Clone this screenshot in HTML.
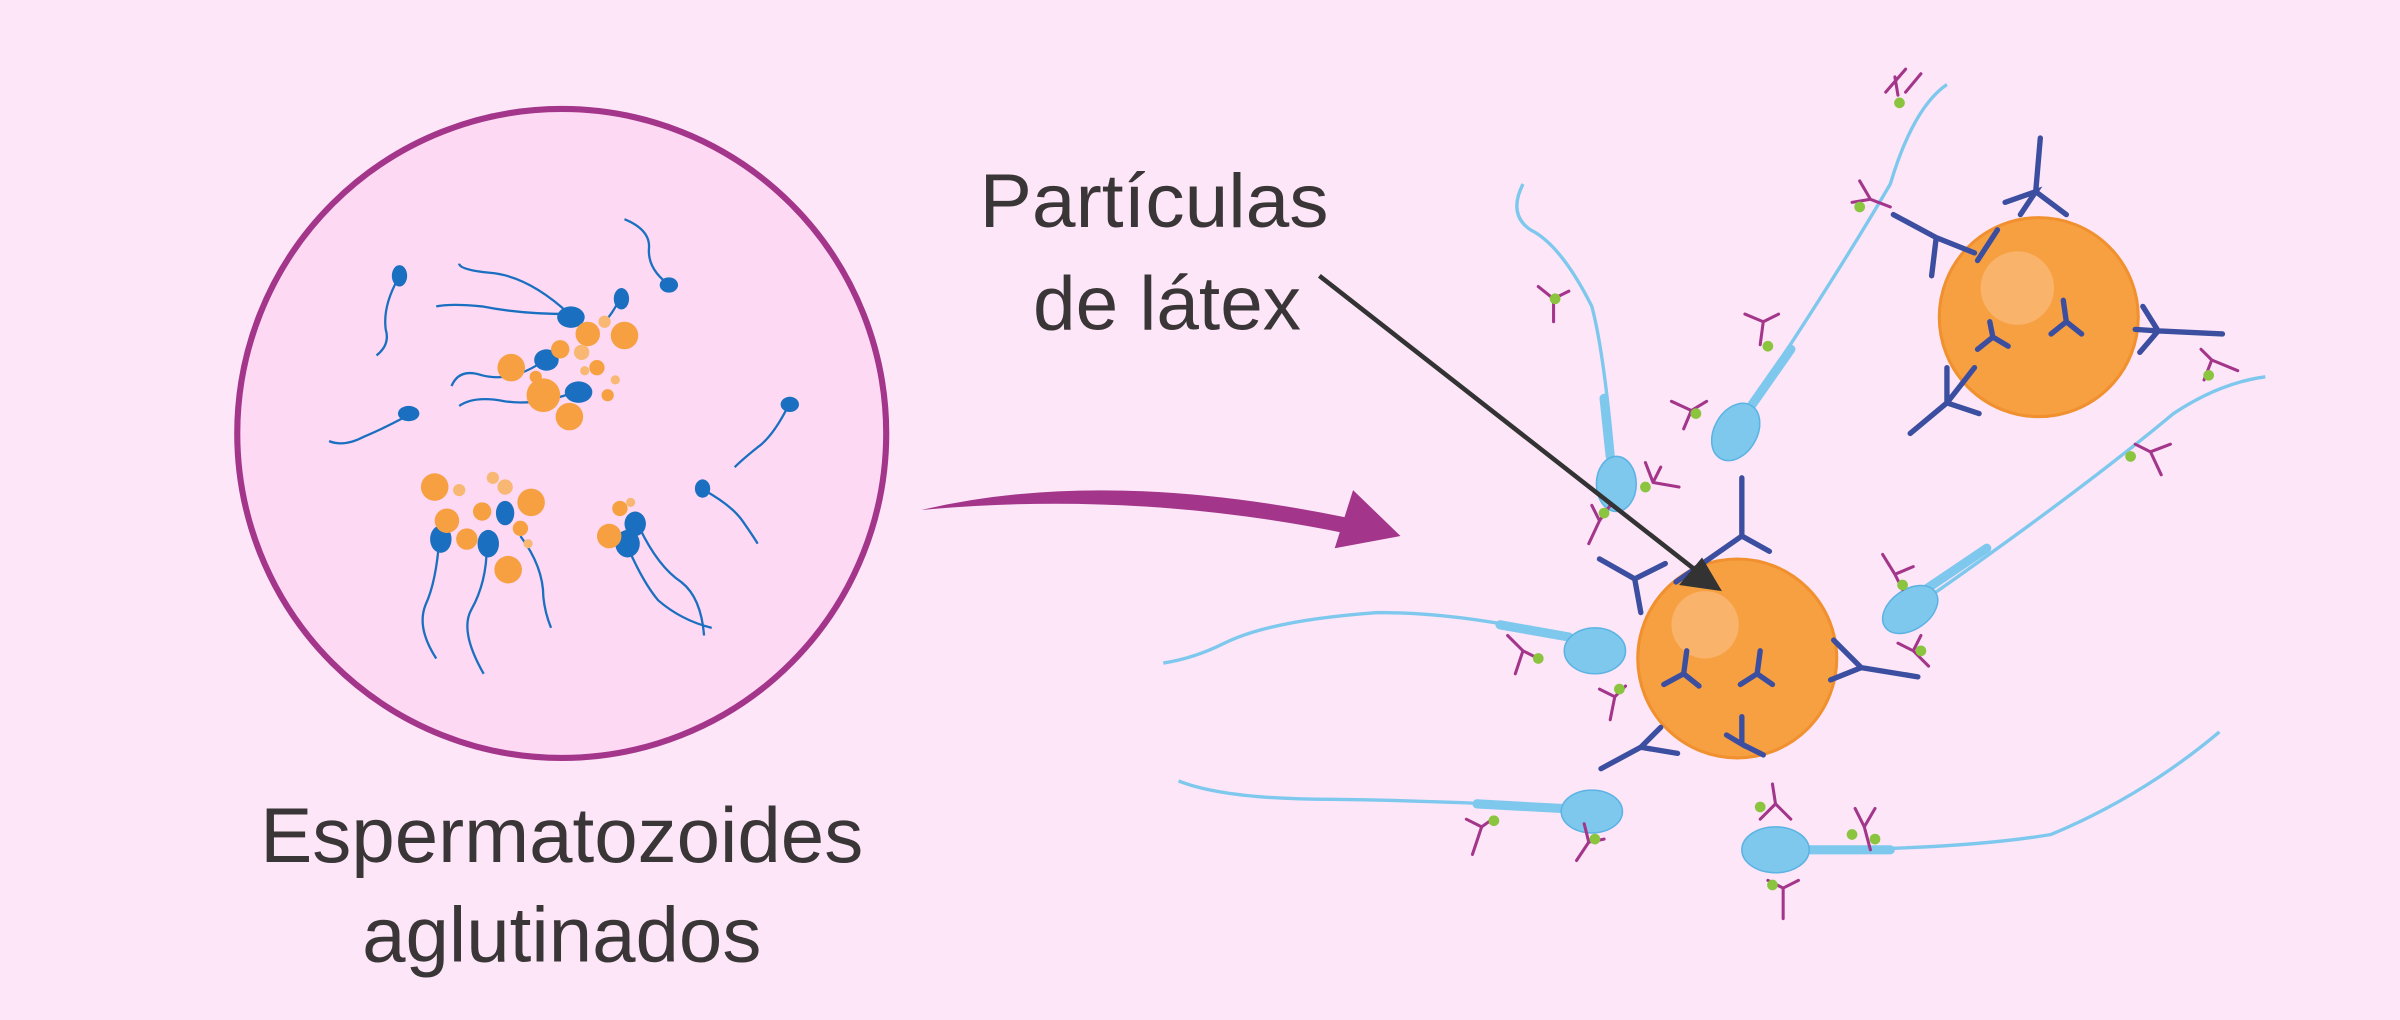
<!DOCTYPE html>
<html><head><meta charset="utf-8"><style>
html,body{margin:0;padding:0;background:#fde6f8;}
svg{display:block}
text{font-family:"Liberation Sans",sans-serif;fill:#3a3536}
</style></head><body>
<svg width="2400" height="1020" viewBox="0 0 1568 666" xmlns="http://www.w3.org/2000/svg">
<rect width="1568" height="666" fill="#fde6f8"/>
<circle cx="367" cy="283" r="212" fill="#fdd9f3" stroke="#a3368a" stroke-width="4"/>
<g fill="none" stroke="#1a6fc0" stroke-width="1.5">
<path d="M260 182 Q250 200 252 215 Q255 225 246 232"/>
<path d="M265 272 Q250 280 238 285 Q225 292 215 288"/>
<path d="M408 143 Q425 150 424 162 Q423 175 436 185"/>
<path d="M515 265 Q505 285 495 292 Q485 300 480 305"/>
<path d="M460 320 Q478 330 485 340 Q492 350 495 355"/>
<path d="M372 205 Q345 180 320 178 Q300 176 300 172"/>
<path d="M372 205 Q340 205 315 200 Q295 198 285 200"/>
<path d="M356 235 Q335 250 315 245 Q300 240 295 252"/>
<path d="M376 256 Q350 265 330 262 Q310 258 300 265"/>
<path d="M405 195 Q400 205 395 210"/>
<path d="M287 352 Q285 380 278 395 Q272 410 285 430"/>
<path d="M318 357 Q318 380 308 398 Q300 412 316 440"/>
<path d="M340 350 Q355 370 355 390 Q356 400 360 410"/>
<path d="M410 357 Q420 380 430 392 Q445 405 465 410"/>
<path d="M418 345 Q430 370 445 380 Q458 390 460 415"/>
</g>
<g fill="#1a6fc0">
<ellipse cx="261" cy="180" rx="5" ry="7"/>
<ellipse cx="267" cy="270" rx="7" ry="5"/>
<ellipse cx="437" cy="186" rx="6" ry="5"/>
<ellipse cx="516" cy="264" rx="6" ry="5"/>
<ellipse cx="459" cy="319" rx="5" ry="6"/>
<ellipse cx="373" cy="207" rx="9" ry="7"/>
<ellipse cx="357" cy="235" rx="8" ry="7"/>
<ellipse cx="378" cy="256" rx="9" ry="7"/>
<ellipse cx="406" cy="195" rx="5" ry="7"/>
<ellipse cx="288" cy="352" rx="7" ry="9"/>
<ellipse cx="319" cy="355" rx="7" ry="9"/>
<ellipse cx="330" cy="335" rx="6" ry="8"/>
<ellipse cx="410" cy="355" rx="8" ry="9"/>
<ellipse cx="415" cy="342" rx="7" ry="8"/>
</g>
<g fill="#f7a041">
<circle cx="334" cy="240" r="9"/><circle cx="355" cy="258" r="11"/><circle cx="372" cy="272" r="9"/>
<circle cx="408" cy="219" r="9"/><circle cx="384" cy="218" r="8"/><circle cx="366" cy="228" r="6"/>
<circle cx="390" cy="240" r="5"/><circle cx="397" cy="258" r="4"/><circle cx="350" cy="246" r="4"/>
<circle cx="284" cy="318" r="9"/><circle cx="347" cy="328" r="9"/><circle cx="315" cy="334" r="6"/>
<circle cx="292" cy="340" r="8"/><circle cx="305" cy="352" r="7"/><circle cx="332" cy="372" r="9"/>
<circle cx="398" cy="350" r="8"/><circle cx="405" cy="332" r="5"/><circle cx="340" cy="345" r="5"/>
</g>
<g fill="#f8b873">
<circle cx="380" cy="230" r="5"/><circle cx="395" cy="210" r="4"/><circle cx="300" cy="320" r="4"/>
<circle cx="322" cy="312" r="4"/><circle cx="330" cy="318" r="5"/><circle cx="412" cy="328" r="3"/>
<circle cx="345" cy="355" r="3"/><circle cx="382" cy="242" r="3"/><circle cx="402" cy="248" r="3"/>
</g>
<text x="367" y="563" font-size="51" text-anchor="middle">Espermatozoides</text>
<text x="367" y="628" font-size="51" text-anchor="middle">aglutinados</text>
<text x="640" y="148" font-size="50" textLength="228" lengthAdjust="spacingAndGlyphs">Partículas</text>
<text x="850" y="215" font-size="50" text-anchor="end">de látex</text>
<path d="M602 333 Q720 305 880 338 L878 348 Q740 320 602 333 Z" fill="#a3368a"/>
<path d="M872 358 L915 350 L884 320 Z" fill="#a3368a"/>
<g fill="none" stroke="#7ec8ee" stroke-width="2.2">
<path d="M1054 300 Q1048 230 1040 200 Q1020 160 1000 150 Q985 140 995 120"/>
<path d="M1140 270 Q1200 180 1235 120 Q1250 70 1272 55"/>
<path d="M1260 390 Q1360 320 1420 270 Q1450 250 1480 246"/>
<path d="M1030 418 Q960 400 900 400 Q830 405 800 420 Q780 430 760 433"/>
<path d="M1030 528 Q950 523 870 522 Q800 522 770 510"/>
<path d="M1175 555 Q1280 555 1340 545 Q1400 520 1450 478"/>
</g>
<g fill="none" stroke="#7ec8ee" stroke-width="6" stroke-linecap="round">
<path d="M1052 298 L1048 260"/>
<path d="M1142 268 L1170 228"/>
<path d="M1258 385 L1298 358"/>
<path d="M1025 416 L980 408"/>
<path d="M1020 528 L965 525"/>
<path d="M1180 555 L1235 555"/>
</g>
<g fill="#7ec8ee" stroke="#5bb3e3" stroke-width="1">
<ellipse cx="1056" cy="316" rx="13" ry="18"/>
<ellipse cx="1134" cy="282" rx="14" ry="20" transform="rotate(30 1134 282)"/>
<ellipse cx="1248" cy="398" rx="20" ry="13" transform="rotate(-35 1248 398)"/>
<ellipse cx="1042" cy="425" rx="20" ry="15"/>
<ellipse cx="1040" cy="530" rx="20" ry="14"/>
<ellipse cx="1160" cy="555" rx="22" ry="15"/>
</g>
<circle cx="1135" cy="430" r="65" fill="#f7a041" stroke="#f0902e" stroke-width="2"/>
<circle cx="1114" cy="408" r="22" fill="#f9b36b"/>
<circle cx="1332" cy="207" r="65" fill="#f7a041" stroke="#f0902e" stroke-width="2"/>
<circle cx="1318" cy="188" r="24" fill="#f9b36b"/>
<g fill="none" stroke="#3b4ea0" stroke-width="3.5" stroke-linecap="round">
<path d="M1102 425 L1100 440 M1100 440 L1087 447 M1100 440 L1110 448"/>
<path d="M1150 425 L1148 440 M1148 440 L1137 447 M1148 440 L1158 447"/>
<path d="M1138 468 L1138 486 L1128 480 M1138 486 L1152 493"/>
<path d="M1072 400 L1068 378 L1045 365 M1068 378 L1088 368"/>
<path d="M1095 380 L1138 350 L1138 312 M1138 350 L1156 360"/>
<path d="M1085 475 L1072 488 L1046 502 M1072 488 L1096 492"/>
<path d="M1196 444 L1216 436 L1253 442 M1216 436 L1198 418"/>
<path d="M1300 210 L1302 220 L1292 228 M1302 220 L1312 226"/>
<path d="M1348 196 L1350 210 L1340 218 M1350 210 L1360 218"/>
<path d="M1395 215 L1410 216 L1398 230 M1410 216 L1452 218 M1410 216 L1400 200"/>
<path d="M1290 165 L1265 155 L1237 140 M1265 155 L1262 180 M1292 170 L1305 150"/>
<path d="M1320 140 L1330 125 L1310 132 M1330 125 L1350 140 M1330 125 L1333 90"/>
<path d="M1290 240 L1272 263 L1248 283 M1272 263 L1293 270 M1272 263 L1272 240"/>
</g>
<g fill="none" stroke="#a3368a" stroke-width="2" stroke-linecap="round">
<path d="M1015 195 L1015 210 M1015 195 L1005 187 M1015 195 L1025 190"/>
<path d="M1080 315 L1097 318 M1080 315 L1075 302 M1080 315 L1085 305"/>
<path d="M1045 340 L1038 355 M1045 340 L1040 330 M1045 340 L1052 330"/>
<path d="M1105 268 L1092 262 M1105 268 L1100 280 M1105 268 L1115 262"/>
<path d="M1152 210 L1140 205 M1152 210 L1150 225 M1152 210 L1162 205"/>
<path d="M1232 60 L1245 45 M1245 60 L1255 48 M1240 62 L1238 50"/>
<path d="M1222 130 L1210 132 M1222 130 L1215 118 M1222 130 L1235 135"/>
<path d="M1405 295 L1412 310 M1405 295 L1395 290 M1405 295 L1418 290"/>
<path d="M1445 235 L1462 242 M1445 235 L1438 228 M1445 235 L1440 248"/>
<path d="M1238 375 L1230 362 M1238 375 L1250 370 M1238 375 L1243 385"/>
<path d="M1250 425 L1260 435 M1250 425 L1240 420 M1250 425 L1255 415"/>
<path d="M995 425 L985 415 M995 425 L990 440 M995 425 L1005 430"/>
<path d="M1055 455 L1052 470 M1055 455 L1045 450 M1055 455 L1062 448"/>
<path d="M968 540 L958 535 M968 540 L962 558 M968 540 L975 535"/>
<path d="M1038 550 L1030 562 M1038 550 L1035 538 M1038 550 L1048 548"/>
<path d="M1160 525 L1158 512 M1160 525 L1150 535 M1160 525 L1170 535"/>
<path d="M1165 580 L1165 600 M1165 580 L1155 575 M1165 580 L1175 575"/>
<path d="M1218 540 L1212 528 M1218 540 L1225 528 M1218 540 L1222 555"/>
</g>
<g fill="#8bc53f">
<circle cx="1016" cy="195" r="3.5"/><circle cx="1075" cy="318" r="3.5"/><circle cx="1048" cy="335" r="3.5"/>
<circle cx="1108" cy="270" r="3.5"/><circle cx="1155" cy="226" r="3.5"/><circle cx="1241" cy="67" r="3.5"/>
<circle cx="1215" cy="135" r="3.5"/><circle cx="1392" cy="298" r="3.5"/><circle cx="1443" cy="245" r="3.5"/>
<circle cx="1243" cy="382" r="3.5"/><circle cx="1255" cy="425" r="3.5"/><circle cx="1005" cy="430" r="3.5"/>
<circle cx="1058" cy="450" r="3.5"/><circle cx="976" cy="536" r="3.5"/><circle cx="1042" cy="548" r="3.5"/>
<circle cx="1150" cy="527" r="3.5"/><circle cx="1158" cy="578" r="3.5"/><circle cx="1210" cy="545" r="3.5"/>
<circle cx="1225" cy="548" r="3.5"/>
</g>
<line x1="862" y1="180" x2="1110" y2="374" stroke="#333" stroke-width="3"/>
<path d="M1125 386 L1097 382 L1112 364 Z" fill="#333"/>
</svg>
</body></html>
